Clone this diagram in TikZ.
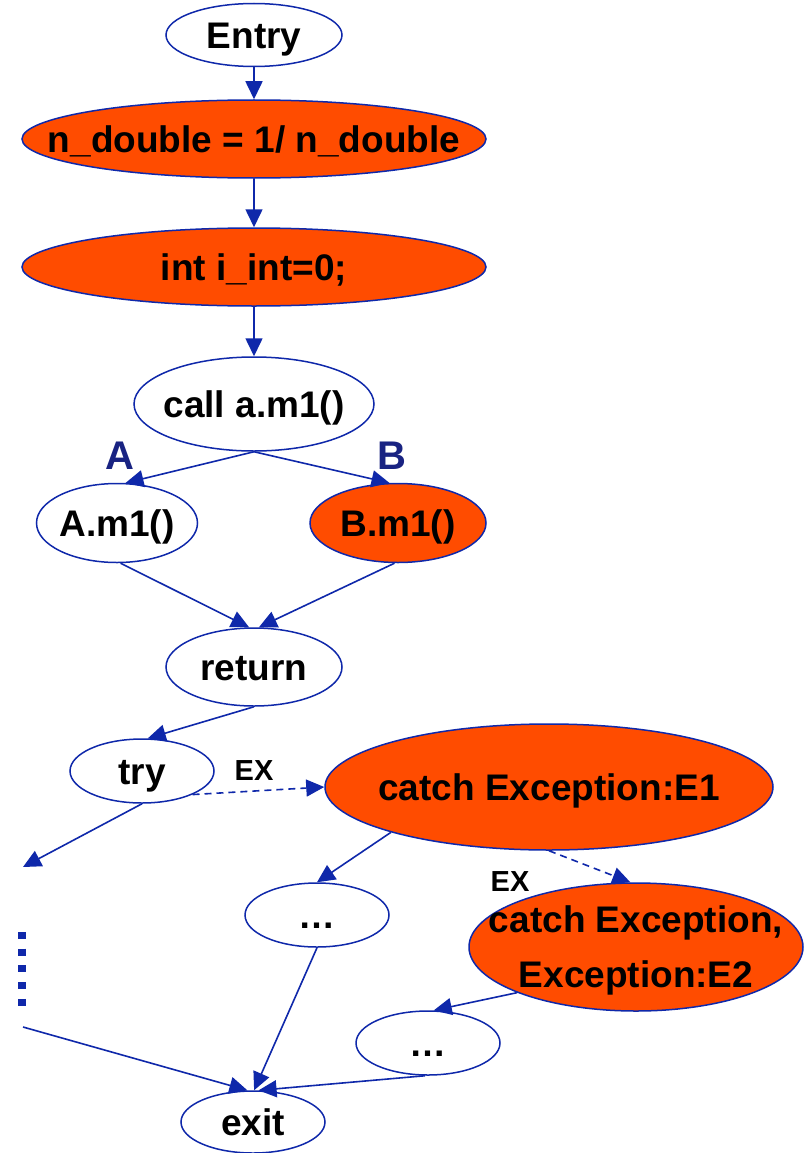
\documentclass[tikz,border=0pt]{standalone}
\usepackage{fontspec}
\setmainfont{Liberation Sans}
\usetikzlibrary{shapes.geometric,arrows.meta}
\definecolor{lineblue}{RGB}{15,40,170}
\definecolor{labnavy}{RGB}{25,35,130}
\definecolor{hot}{RGB}{255,76,0}
\begin{document}
\begin{tikzpicture}[x=1pt,y=-1pt,
  nodebase/.style={ellipse, draw=lineblue, line width=1.5pt, inner xsep=-300pt, inner ysep=-100pt,
    font=\fontsize{37}{55}\selectfont\bfseries},
  oneline/.style={text height=26.5pt, text depth=0pt},
  plain/.style={nodebase, fill=white},
  hotnode/.style={nodebase, fill=hot},
  conn/.style={draw=lineblue, line width=1.6pt, -{Triangle[length=18pt,width=17pt]}},
  exconn/.style={conn, dash pattern=on 7pt off 5pt},
  dotline/.style={draw=lineblue, line width=8pt, dash pattern=on 7pt off 9.7pt},
  branchlab/.style={font=\fontsize{40}{44}\selectfont\bfseries, text=labnavy, text height=29pt, text depth=0pt, inner sep=0pt},
  exlab/.style={font=\fontsize{29}{32}\selectfont\bfseries, text height=21pt, text depth=0pt, inner sep=0pt},
]
\useasboundingbox[fill=white] (0,0) rectangle (803,1153);

\node[plain, oneline, minimum width=176pt, minimum height=63pt] (entry) at (254,35) {Entry};
\node[hotnode, oneline, minimum width=464pt, minimum height=78pt] (ndbl) at (254,139) {n\_double = 1/ n\_double};
\node[hotnode, oneline, minimum width=464pt, minimum height=78pt] (iint) at (254,267) {int i\_int=0;};
\node[plain, oneline, minimum width=240pt, minimum height=94pt] (call) at (254,404) {call a.m1()};
\node[plain, oneline, minimum width=161pt, minimum height=79pt] (am1) at (117,523) {A.m1()};
\node[hotnode, oneline, minimum width=176pt, minimum height=79pt] (bm1) at (398,523) {B.m1()};
\node[plain, oneline, minimum width=176pt, minimum height=78pt] (ret) at (254,667) {return};
\node[plain, oneline, minimum width=144pt, minimum height=64pt] (try) at (142,771) {try};
\node[hotnode, oneline, minimum width=448pt, minimum height=126pt] (ce1) at (549,787) {catch Exception:E1};
\node[plain, oneline, minimum width=144pt, minimum height=64pt] (dots1) at (317,915) {…};
\node[hotnode, align=center, minimum width=334pt, minimum height=128pt] (ce2) at (636,947)
  {catch Exception,\\\raisebox{0pt}[\height][0pt]{Exception:E2}};
\node[plain, oneline, minimum width=144pt, minimum height=64pt] (dots2) at (428,1043) {…};
\node[plain, oneline, minimum width=144pt, minimum height=62pt] (exit) at (253,1122) {exit};

\node[branchlab] (labA) at (120,455) {A};
\node[branchlab] (labB) at (392,455) {B};
\node[exlab] (ex1) at (254,770) {EX};
\node[exlab] (ex2) at (510,881) {EX};

\coordinate (free1) at (23,867);
\coordinate (dv1) at (22,932);
\coordinate (dv2) at (22,1006);
\coordinate (free2) at (23,1027);

\draw[conn] (entry.south) -- (ndbl.north);
\draw[conn] (ndbl.south) -- (iint.north);
\draw[conn] (iint.south) -- (call.north);
\draw[conn] (call.south) -- (am1.78);
\draw[conn] (call.south) -- (bm1.102);
\draw[conn] (am1.-85) -- (ret.97);
\draw[conn] (bm1.-95) -- (ret.83);
\draw[conn] (ret.south) -- (try.80);
\draw[exconn] (try.-25) -- (ce1.west);
\draw[conn] (try.south) -- (free1);
\draw[dotline] (dv1) -- (dv2);
\draw[conn] (free2) -- (exit.100);
\draw[conn] (ce1.-164) -- (dots1.north);
\draw[exconn] (ce1.south) -- (ce2.95);
\draw[conn] (ce2.-159) -- (dots2.80);
\draw[conn] (dots1.south) -- (exit.88);
\draw[conn] (dots2.-95) -- (exit.80);
\end{tikzpicture}
\end{document}
